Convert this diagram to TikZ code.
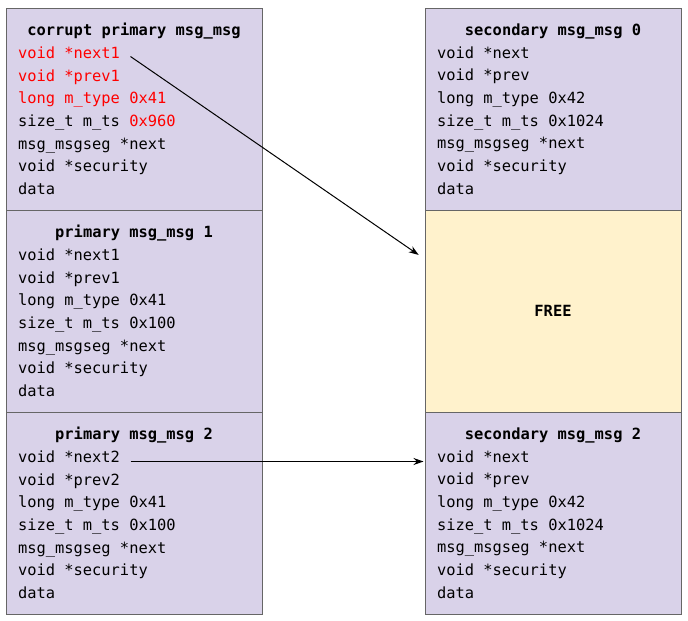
\documentclass[tikz,border=0pt]{standalone}
\usepackage{fontspec}
\setmonofont{DejaVu Sans Mono}
\usetikzlibrary{positioning, arrows.meta, calc}

\definecolor{chunkfill}{HTML}{D9D2E9}
\definecolor{freefill}{HTML}{FFF2CC}
\definecolor{chunkline}{HTML}{666666}
\definecolor{corrupted}{HTML}{FF0000}

% titulo centrado do chunk
\newcommand{\chunktitle}[1]{\makebox[\linewidth]{\bfseries #1}\\}

\begin{document}
\begin{tikzpicture}[>={Stealth[length=10pt, width=7pt]}, x=1pt, y=1pt,
    chunk/.style={draw=chunkline, fill=chunkfill, line width=1pt,
      minimum width=256pt, minimum height=202pt, text width=232pt,
      inner xsep=12pt, inner ysep=0pt, align=flush left,
      font={\ttfamily\fontsize{15.4}{22.67}\selectfont}},
    freechunk/.style={chunk, fill=freefill, align=flush center},
    ptr/.style={->, line width=1pt, shorten >=1pt}]

  \useasboundingbox (0,0) rectangle (688,-621);

  % --- CONFIGURACOES ---
  \def\dy{202}   % altura de cada chunk
  \def\xL{134}   % centro da coluna primaria
  \def\xR{553}   % centro da coluna secundaria
  \def\yTop{109} % centro da primeira linha

  % --- COLUNA PRIMARIA ---
  \node[chunk] (c0) at (\xL, -\yTop) {%
    \chunktitle{corrupt primary msg\_msg}
    \textcolor{corrupted}{void *next1}\\
    \textcolor{corrupted}{void *prev1}\\
    \textcolor{corrupted}{long m\_type 0x41}\\
    size\_t m\_ts \textcolor{corrupted}{0x960}\\
    msg\_msgseg *next\\
    void *security\\
    data};

  \foreach \i in {1, 2} {
    \node[chunk] (p\i) at (\xL, -\yTop-\i*\dy) {%
      \chunktitle{primary msg\_msg \i}
      void *next\i\\
      void *prev\i\\
      long m\_type 0x41\\
      size\_t m\_ts 0x100\\
      msg\_msgseg *next\\
      void *security\\
      data};
  }

  % --- COLUNA SECUNDARIA ---
  \foreach \i/\row in {0/0, 2/2} {
    \node[chunk] (s\i) at (\xR, -\yTop-\row*\dy) {%
      \chunktitle{secondary msg\_msg \i}
      void *next\\
      void *prev\\
      long m\_type 0x42\\
      size\_t m\_ts 0x1024\\
      msg\_msgseg *next\\
      void *security\\
      data};
  }

  % Chunk liberado entre os dois secundarios
  \node[freechunk] (free) at (\xR, -\yTop-\dy) {\bfseries FREE};

  % --- PONTEIROS ---
  % next1 corrompido aponta para dentro do chunk livre
  \coordinate (next1) at ($(c0.north west)+(125,-49)$);
  \coordinate (hit1) at ($(free.north west)+(-5,-46)$);
  \draw[ptr] (next1) -- (hit1);

  % next2 aponta para o secundario 2
  \coordinate (next2) at ($(p2.north west)+(125,-50)$);
  \draw[ptr] (next2) -- (next2 -| s2.west);

\end{tikzpicture}
\end{document}
